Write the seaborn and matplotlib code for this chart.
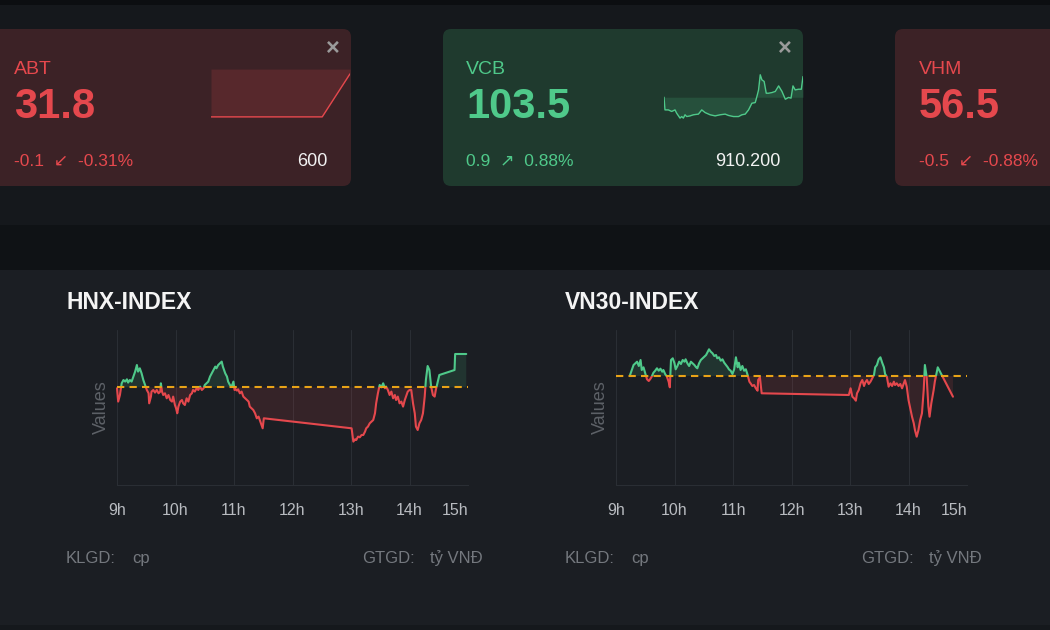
import numpy as np
import pandas as pd
import seaborn as sns
import matplotlib.pyplot as plt
from matplotlib.patches import Rectangle, FancyBboxPatch

# ---- values ----
# intraday index curves: distance from the reference price (reference = 0), time in hours
HNX_T = [9.00, 9.02, 9.05, 9.08, 9.11, 9.14, 9.17, 9.19, 9.22, 9.25,
         9.28, 9.31, 9.34, 9.36, 9.39, 9.42, 9.45, 9.48, 9.51, 9.54,
         9.55, 9.58, 9.59, 9.62, 9.65, 9.68, 9.71, 9.74, 9.75, 9.77,
         9.79, 9.82, 9.85, 9.88, 9.91, 9.94, 9.96, 9.99, 10.01, 10.03,
         10.05, 10.08, 10.11, 10.13, 10.16, 10.19, 10.22, 10.25, 10.28, 10.30,
         10.33, 10.36, 10.39, 10.42, 10.45, 10.48, 10.50, 10.53, 10.56, 10.59,
         10.62, 10.65, 10.68, 10.70, 10.73, 10.76, 10.79, 10.81, 10.83, 10.85,
         10.88, 10.90, 10.93, 10.96, 10.99, 11.01, 11.03, 11.05, 11.07, 11.10,
         11.13, 11.16, 11.19, 11.22, 11.25, 11.27, 11.30, 11.33, 11.36, 11.39,
         11.42, 11.44, 11.47, 11.49, 11.51,
         13.01, 13.04, 13.07, 13.09, 13.12, 13.15, 13.18, 13.21, 13.24, 13.26,
         13.29, 13.32, 13.35, 13.38, 13.41, 13.43, 13.46, 13.49, 13.52, 13.55,
         13.58, 13.60, 13.63, 13.66, 13.69, 13.72, 13.75, 13.77, 13.80, 13.83,
         13.86, 13.89, 13.92, 13.94, 13.97, 14.00, 14.03, 14.06, 14.09, 14.11,
         14.14, 14.17, 14.20, 14.23, 14.26, 14.28, 14.31, 14.34, 14.37, 14.40,
         14.43, 14.45, 14.51, 14.77, 14.78, 14.97]
HNX_V = [-1, -14.3, -7.7, 4, 7.3, 5.7, 8, 4.7, 7.3, 5.7,
         10.7, 15.7, 22.3, 15.7, 19, 14, 7.3, 2.3, -2.7, -6,
         -16, -9.3, -4.3, -2.7, -5.3, -2.7, -6, -4.3, 4, -4.3,
         -7.7, -6, -11, -7.7, -12.7, -14.3, -9.3, -17.7, -21, -26,
         -19.3, -14.3, -12.7, -16, -17.7, -11, -14.3, -7.7, -6, -2.7,
         -4.3, -1, -2.7, 0.7, -2.7, -1, 2.3, 4, 5.7, 10.7,
         14, 17.3, 20.7, 19, 22.3, 24, 25.7, 20.7, 17.3, 14,
         10.7, 5.7, 2.3, 0.7, 5.7, -2.7, -2, -3.3, -2, -6,
         -4.3, -9.3, -11, -12.7, -14.3, -19.3, -21, -22.7, -26, -31,
         -29.3, -32.7, -37.7, -41, -31,
         -41, -54.3, -52, -52.7, -49.3, -50, -47.7, -47.7, -44.3, -41,
         -39.3, -36, -34.3, -32.7, -26, -16, -6, 2.3, 0, 4,
         -1, 0.7, -2.7, -7.7, -4.3, -11, -7.7, -12.7, -9.3, -16,
         -14.3, -19.3, -12.7, -9.3, -4.3, -2.7, -2.7, -16, -26, -39.3,
         -42.7, -36, -32.7, -26, -9.3, 7.3, 21.3, 17.3, 0.7, -7.7,
         -9.3, -2.7, 12.3, 17.3, 33.3, 33.3]

VN30_T = [9.24, 9.27, 9.30, 9.33, 9.36, 9.39, 9.42, 9.44, 9.47, 9.50,
          9.53, 9.56, 9.59, 9.61, 9.64, 9.67, 9.70, 9.73, 9.76, 9.79,
          9.81, 9.84, 9.87, 9.90, 9.92, 9.94, 9.97, 10.00, 10.02, 10.05,
          10.08, 10.11, 10.14, 10.17, 10.19, 10.22, 10.25, 10.28, 10.31, 10.34,
          10.37, 10.39, 10.42, 10.45, 10.48, 10.51, 10.54, 10.56, 10.59, 10.62,
          10.65, 10.68, 10.71, 10.73, 10.76, 10.79, 10.82, 10.85, 10.88, 10.91,
          10.93, 10.96, 10.99, 11.02, 11.05, 11.08, 11.10, 11.13, 11.16, 11.19,
          11.22, 11.25, 11.28, 11.30, 11.33, 11.36, 11.39, 11.42, 11.43, 11.46,
          11.49, 12.98, 13.01, 13.04, 13.07, 13.10, 13.12, 13.15, 13.18, 13.21,
          13.24, 13.26, 13.29, 13.32, 13.35, 13.38, 13.41, 13.43, 13.46, 13.49,
          13.52, 13.55, 13.58, 13.60, 13.63, 13.66, 13.69, 13.72, 13.75, 13.77,
          13.80, 13.83, 13.86, 13.89, 13.92, 13.94, 13.97, 14.00, 14.03, 14.06,
          14.09, 14.11, 14.14, 14.17, 14.20, 14.23, 14.26, 14.28, 14.31, 14.34,
          14.36, 14.39, 14.43, 14.45, 14.50, 14.76]
VN30_V = [1, 6, 11, 12.7, 14.3, 10, 16, 6, 8.7, 2.7,
          -3.3, -5, -2.7, -0.7, 3.3, 5.3, 7.7, 5.3, 7.3, 4.3,
          6, 2, -0.7, -5.7, -11.3, 16, 17.7, 12.7, 6.7, 10,
          14.3, 12, 16, 14.3, 16.7, 12.7, 10, 14.3, 12.7, 11,
          8.7, 7.7, 12.7, 16, 17.7, 19.3, 21, 23.3, 26.7, 24.3,
          22.7, 20, 21, 17.7, 18.7, 15.3, 16.7, 13.3, 11, 8.7,
          6.7, 5.3, 2, 6.7, 18.7, 8.7, 13.3, 6, 10, 5.3,
          6.7, 1, -5.7, -7.3, -10, -9, -12.3, -14.7, -4, -1.3,
          -17.3, -19, -12.3, -20.7, -22.3, -24.7, -17.3, -14, -7.3, -4,
          -10, -6.7, -4, -8, -5.7, -2.3, 1, 8.7, 11, 16.7,
          18.7, 13.3, 8.7, 2, -0.7, -10.7, -7.3, -10, -5.7, -9,
          -7.3, -10, -8, -12.3, -7.3, -4, -10.7, -24, -32.3, -40.7,
          -47.3, -54, -60.7, -54, -44, -37.3, -14, 11, -0.7, -30.7,
          -40.7, -27.3, -14, -5.7, 8.7, -20.7]

INDEX_REF = 0.0
HOUR_TICKS = [9, 10, 11, 12, 13, 14, 15]
HOUR_LABELS = ["9h", "10h", "11h", "12h", "13h", "14h", "15h"]

# watch-list cards
CARD_CODES = ["ABT", "VCB", "VHM"]
CARD_PRICES = ["31.8", "103.5", "56.5"]
CARD_CHANGES = ["-0.1", "0.9", "-0.5"]
CARD_PCTS = ["-0.31%", "0.88%", "-0.88%"]
CARD_VOLUMES = ["600", "910.200", ""]

# card sparklines (x = share of the session shown, in %)
ABT_X = [0, 80, 100]
ABT_P = [31.80, 31.80, 31.89]
ABT_REF = 31.9
VCB_X = [0, 0.7, 3.1, 5.5, 7.9, 9.1, 11.5, 12.7, 13.9, 15.1,
         16.3, 18.7, 21.1, 24.7, 27.1, 29.5, 33.1, 36.7, 40.3, 43.9,
         46.3, 49.9, 53.5, 55.9, 58.3, 60.7, 63.1, 65.5, 66.7, 67.9,
         69.1, 70.3, 71.9, 73.4, 75.1, 77.5, 79.9, 82.3, 84.7, 87.1,
         89.4, 91.2, 92.6, 94.2, 96.6, 98.6, 99.8]
VCB_P = [102.6, 102.03, 102.03, 101.96, 102.03, 101.88, 101.66, 101.73, 101.66, 101.81,
         101.73, 101.76, 101.81, 101.84, 102.03, 101.91, 101.81, 101.76, 101.81, 101.84,
         101.78, 101.73, 101.73, 101.81, 101.84, 102.03, 102.33, 102.36, 102.63, 102.93,
         103.61, 103.38, 103.31, 102.78, 102.78, 102.81, 102.86, 103.11, 102.86, 102.51,
         102.59, 102.56, 103.11, 102.93, 102.96, 102.96, 103.53]
VCB_REF = 102.6

# ---- styling ----
W, H = 1050, 630
BG = "#15181c"
TOP_STRIP = "#0c0e11"
BAND = "#0f1215"
PANEL = "#1b1e23"
RED = "#e5484d"
GREEN = "#4fc98a"
RED_CARD = "#3c2226"
GREEN_CARD = "#1f3a2e"
AMBER = "#e8a317"
GRID = "#2a2e34"
TICK = "#b8bbc0"
MUTED = "#5d6167"
FOOT = "#74787e"

sns.set_theme(style="dark")
plt.rcParams["font.family"] = ["Liberation Sans", "DejaVu Sans"]

fig = plt.figure(figsize=(10.5, 6.3), dpi=100)
fig.patch.set_facecolor(BG)


def px_axes(x0, y0, x1, y1):
    # axes placed by pixel box (top-left origin)
    return fig.add_axes([x0 / W, 1 - y1 / H, (x1 - x0) / W, (y1 - y0) / H])


bg = px_axes(0, 0, W, H)
bg.set_xlim(0, W)
bg.set_ylim(H, 0)
bg.axis("off")

bg.add_patch(Rectangle((0, 0), W, 5, color=TOP_STRIP, lw=0))
bg.add_patch(Rectangle((0, 225), W, 45, color=BAND, lw=0))
bg.add_patch(Rectangle((0, 270), W, 355, color=PANEL, lw=0))
bg.add_patch(Rectangle((0, 625), W, 5, color=BG, lw=0))

# cards
card_left = [-20, 443, 895]
card_right = [351, 803, 1080]
text_x = [14, 466, 919]
for i, code in enumerate(CARD_CODES):
    up = not CARD_CHANGES[i].startswith("-")
    face = GREEN_CARD if up else RED_CARD
    col = GREEN if up else RED
    bg.add_patch(FancyBboxPatch((card_left[i], 29), card_right[i] - card_left[i], 157,
                                boxstyle="round,pad=0,rounding_size=8", fc=face, ec="none"))
    bg.text(text_x[i], 74, code, color=col, fontsize=14, va="baseline")
    bg.text(text_x[i], 118, CARD_PRICES[i], color=col, fontsize=30, fontweight="bold", va="baseline")
    arrow = "\u2197" if up else "\u2199"
    bg.text(text_x[i], 166, f"{CARD_CHANGES[i]}  {arrow}  {CARD_PCTS[i]}", color=col,
            fontsize=12.5, va="baseline")
    if CARD_VOLUMES[i]:
        bg.text(card_right[i] - 23, 166, CARD_VOLUMES[i], color="#f2f2f2", fontsize=13,
                va="baseline", ha="right")
        bg.text(card_right[i] - 18, 48, "\u00d7", color="#9a9a9a", fontsize=17,
                fontweight="bold", ha="center", va="center")


def sparkline(box, xs, ps, ref, ylim, col):
    ax = px_axes(*box)
    ax.set_facecolor("none")
    df = pd.DataFrame({"x": xs, "price": ps})
    sns.lineplot(data=df, x="x", y="price", ax=ax, color=col, lw=1.0, estimator=None, sort=False)
    ax.fill_between(xs, ps, ref, color=col, alpha=0.16, lw=0)
    ax.set_xlim(min(xs), max(xs))
    ax.set_ylim(*ylim)
    ax.axis("off")


sparkline((211, 60, 350, 125), ABT_X, ABT_P, ABT_REF, (31.783, 31.919), RED)
sparkline((664, 65, 803, 125), VCB_X, VCB_P, VCB_REF, (101.35, 104.05), GREEN)


def index_panel(x0, title, t, v, ylim):
    ax = px_axes(x0 + 51, 330, x0 + 402, 485)
    ax.set_facecolor("none")
    df = pd.DataFrame({"time": t, "value": v})
    v_arr = np.array(v)
    ax.fill_between(t, v, INDEX_REF, where=v_arr >= INDEX_REF, interpolate=True,
                    color=GREEN, alpha=0.13, lw=0)
    ax.fill_between(t, v, INDEX_REF, where=v_arr <= INDEX_REF, interpolate=True,
                    color=RED, alpha=0.13, lw=0)
    # same curve drawn twice, clipped above / below the reference
    for col, lo, hi in [(GREEN, INDEX_REF, 1000), (RED, -1000, INDEX_REF)]:
        sns.lineplot(data=df, x="time", y="value", ax=ax, color=col, lw=1.5,
                     estimator=None, sort=False)
        ax.lines[-1].set_clip_path(Rectangle((8, lo), 8, hi - lo, transform=ax.transData))
    ax.axhline(INDEX_REF, color=AMBER, lw=1.5, ls=(0, (3.5, 2.5)), zorder=3)

    ax.set_xlim(9, 15)
    ax.set_ylim(*ylim)
    ax.set_xticks(HOUR_TICKS)
    ax.set_xticklabels(HOUR_LABELS)
    ax.get_xticklabels()[-1].set_ha("right")
    ax.set_yticks([])
    ax.grid(True, axis="x", color=GRID, lw=0.8)
    ax.grid(False, axis="y")
    for side in ["top", "left", "right"]:
        ax.spines[side].set_visible(False)
    ax.spines["bottom"].set_color(GRID)
    ax.spines["bottom"].set_linewidth(0.8)
    ax.tick_params(axis="x", length=0, pad=13, colors=TICK, labelsize=11.5)
    ax.set_xlabel("")
    ax.set_ylabel("Values", color=MUTED, fontsize=13, labelpad=5)

    bg.text(x0, 309, title, color="#f4f4f4", fontsize=16.5, fontweight="bold", va="baseline")
    bg.text(x0, 563, "KLGD:", color=FOOT, fontsize=12, va="baseline")
    bg.text(x0 + 66, 563, "cp", color=FOOT, fontsize=12, va="baseline")
    bg.text(x0 + 296, 563, "GTGD:", color=FOOT, fontsize=12, va="baseline")
    bg.text(x0 + 364, 563, "tỷ VNĐ", color=FOOT, fontsize=12, va="baseline")


index_panel(66, "HNX-INDEX", HNX_T, HNX_V, (-97.7, 57.3))
index_panel(565, "VN30-INDEX", VN30_T, VN30_V, (-109, 46))

fig.savefig("out.png", dpi=100, facecolor=fig.get_facecolor())
